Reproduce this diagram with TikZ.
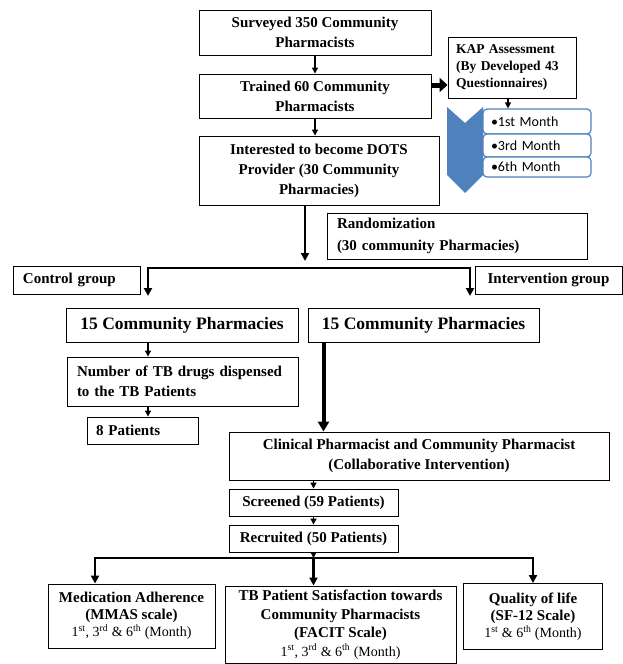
\documentclass[tikz,border=0pt]{standalone}
\usepackage{fontspec}
\setmainfont{Liberation Serif}
\newfontfamily\calibri{Carlito}
\usetikzlibrary{arrows.meta}
\definecolor{kapblue}{RGB}{79,129,189}

\begin{document}
\begin{tikzpicture}[x=1pt, y=-1pt,
  box/.style={draw, rectangle, line width=0.9pt, inner sep=0pt, align=center, font=\bfseries\fontsize{15}{20}\selectfont},
  leftbox/.style={box, align=left, inner ysep=0pt},
  month/.style={draw=kapblue, fill=white, line width=1.2pt, rounded corners=4pt, minimum width=108pt, minimum height=21pt, inner xsep=8pt, inner ysep=0pt, text width=92pt, align=left, font=\calibri\fontsize{14}{16}\selectfont},
  thin/.style={line width=1.2pt, >={Triangle[length=6pt,width=6pt]}},
  heavy/.style={line width=2.4pt, >={Triangle[length=8pt,width=8pt]}},
  trunk/.style={line width=4pt, >={Triangle[length=10pt,width=11pt]}},
  fat/.style={line width=5pt, >={Triangle[length=8pt,width=14pt]}}]
\useasboundingbox (0,0) rectangle (623,664);

\node[box, minimum width=232pt, minimum height=45pt] (surv) at (315,32.5) {Surveyed 350 Community\\Pharmacists};
\node[box, minimum width=232pt, minimum height=44pt] (train) at (315,96) {Trained 60 Community\\Pharmacists};
\node[box, minimum width=240pt, minimum height=69pt] (intr) at (319,170.5) {Interested to become DOTS\\Provider (30 Community\\Pharmacies)};

\node[leftbox, minimum height=61pt, inner xsep=8pt, text width=112pt, font=\bfseries\fontsize{13.5}{17}\selectfont] (kap) at (512,67.5) {KAP Assessment\\(By Developed 43\\Questionnaires)};
\fill[kapblue] (447,107) -- (465,123) -- (483,107) -- (483,175) -- (465,193) -- (447,175) -- cycle;
\node[month, minimum height=25pt] (m1) at (537,121.5) {\textbullet 1st Month};
\node[month, minimum height=23pt] (m2) at (537,145.5) {\textbullet 3rd Month};
\node[month, minimum height=20pt] (m3) at (537,167) {\textbullet 6th Month};

\draw[fat, ->] ([yshift=11pt]train.east) -- ([yshift=11pt]train.east -| kap.west);
\draw[thin, ->] ([xshift=-4pt]kap.south) -- ([xshift=-4pt]kap.south |- m1.north);
\draw[thin, ->] (surv) -- (train);
\draw[thin, ->] (train.south) -- (train.south |- intr.north);

\node[leftbox, minimum height=46pt, inner xsep=10pt, text width=240pt, font=\bfseries\fontsize{15}{22}\selectfont] (rand) at (457,236) {Randomization\\(30 community Pharmacies)};
\node[leftbox, minimum height=28pt, inner xsep=10pt, text width=107pt] (ctrl) at (76.5,280) {Control group};
\node[box, minimum width=147pt, minimum height=28pt] (intv) at (548.5,280) {Intervention group};

\coordinate (split) at (305,261);
\coordinate (ctrlend) at (148,296);
\coordinate (intvend) at (470,296);
\coordinate (forkR) at (470,268);
\draw[heavy, ->] ([xshift=-14pt]intr.south) -- (split);
\draw[heavy, <->] (ctrlend) |- (forkR) -- (intvend);

\node[box, minimum width=232pt, minimum height=34pt, font=\bfseries\fontsize{17.5}{20}\selectfont] (cpa) at (182,325) {15 Community Pharmacies};
\node[box, minimum width=231pt, minimum height=34pt, font=\bfseries\fontsize{17.5}{20}\selectfont] (cpb) at (423.5,325) {15 Community Pharmacies};

\node[leftbox, minimum height=49pt, inner xsep=10pt, text width=211pt] (num) at (182.5,381.5) {Number of TB drugs dispensed\\to the TB Patients};
\node[leftbox, minimum height=27pt, inner xsep=9pt, text width=93pt] (pat) at (142.5,430.5) {8 Patients};
\draw[thin, ->] (cpa.south -| ctrlend) -- (num.north -| ctrlend);
\draw[thin, ->] (num.south -| ctrlend) -- (pat.north -| ctrlend);

\node[box, minimum width=380pt, minimum height=48pt] (clin) at (419,456) {Clinical Pharmacist and Community Pharmacist\\(Collaborative Intervention)};
\node[box, minimum width=169pt, minimum height=27pt] (scr) at (313.5,502.5) {Screened (59 Patients)};
\node[box, minimum width=169pt, minimum height=27pt] (rec) at (313.5,538.5) {Recruited (50 Patients)};
\draw[trunk, ->] ([xshift=-100pt]cpb.south) -- ([xshift=-100pt]cpb.south |- clin.north);
\draw[thin, ->] (clin.south -| scr) -- (scr);
\draw[thin, ->] (scr) -- (rec);

\node[box, minimum width=167pt, minimum height=64pt, font=\bfseries\fontsize{15}{17}\selectfont] (mmas) at (131.5,616) {Medication Adherence\\(MMAS scale)\\{\mdseries\fontsize{14}{16}\selectfont 1\textsuperscript{st}, 3\textsuperscript{rd} \& 6\textsuperscript{th} (Month)}};
\node[box, minimum width=231pt, minimum height=77pt, font=\bfseries\fontsize{15}{18.5}\selectfont] (facit) at (340.5,624.5) {TB Patient Satisfaction towards\\Community Pharmacists\\(FACIT Scale)\\{\mdseries\fontsize{14}{16}\selectfont 1\textsuperscript{st}, 3\textsuperscript{rd} \& 6\textsuperscript{th} (Month)}};
\node[box, minimum width=139pt, minimum height=66pt, font=\bfseries\fontsize{15}{17}\selectfont] (sf) at (533,616.5) {Quality of life\\(SF-12 Scale)\\{\mdseries\fontsize{14}{16}\selectfont 1\textsuperscript{st} \& 6\textsuperscript{th} (Month)}};

\coordinate (botfork) at (313.5,558);
\draw[thin, ->] (rec) -- (botfork);
\draw[heavy, <->] ([xshift=-36.5pt]mmas.north) |- (sf.north |- botfork) -- (sf.north);
\draw[heavy, ->] (botfork) -- (botfork |- facit.north);
\end{tikzpicture}
\end{document}
